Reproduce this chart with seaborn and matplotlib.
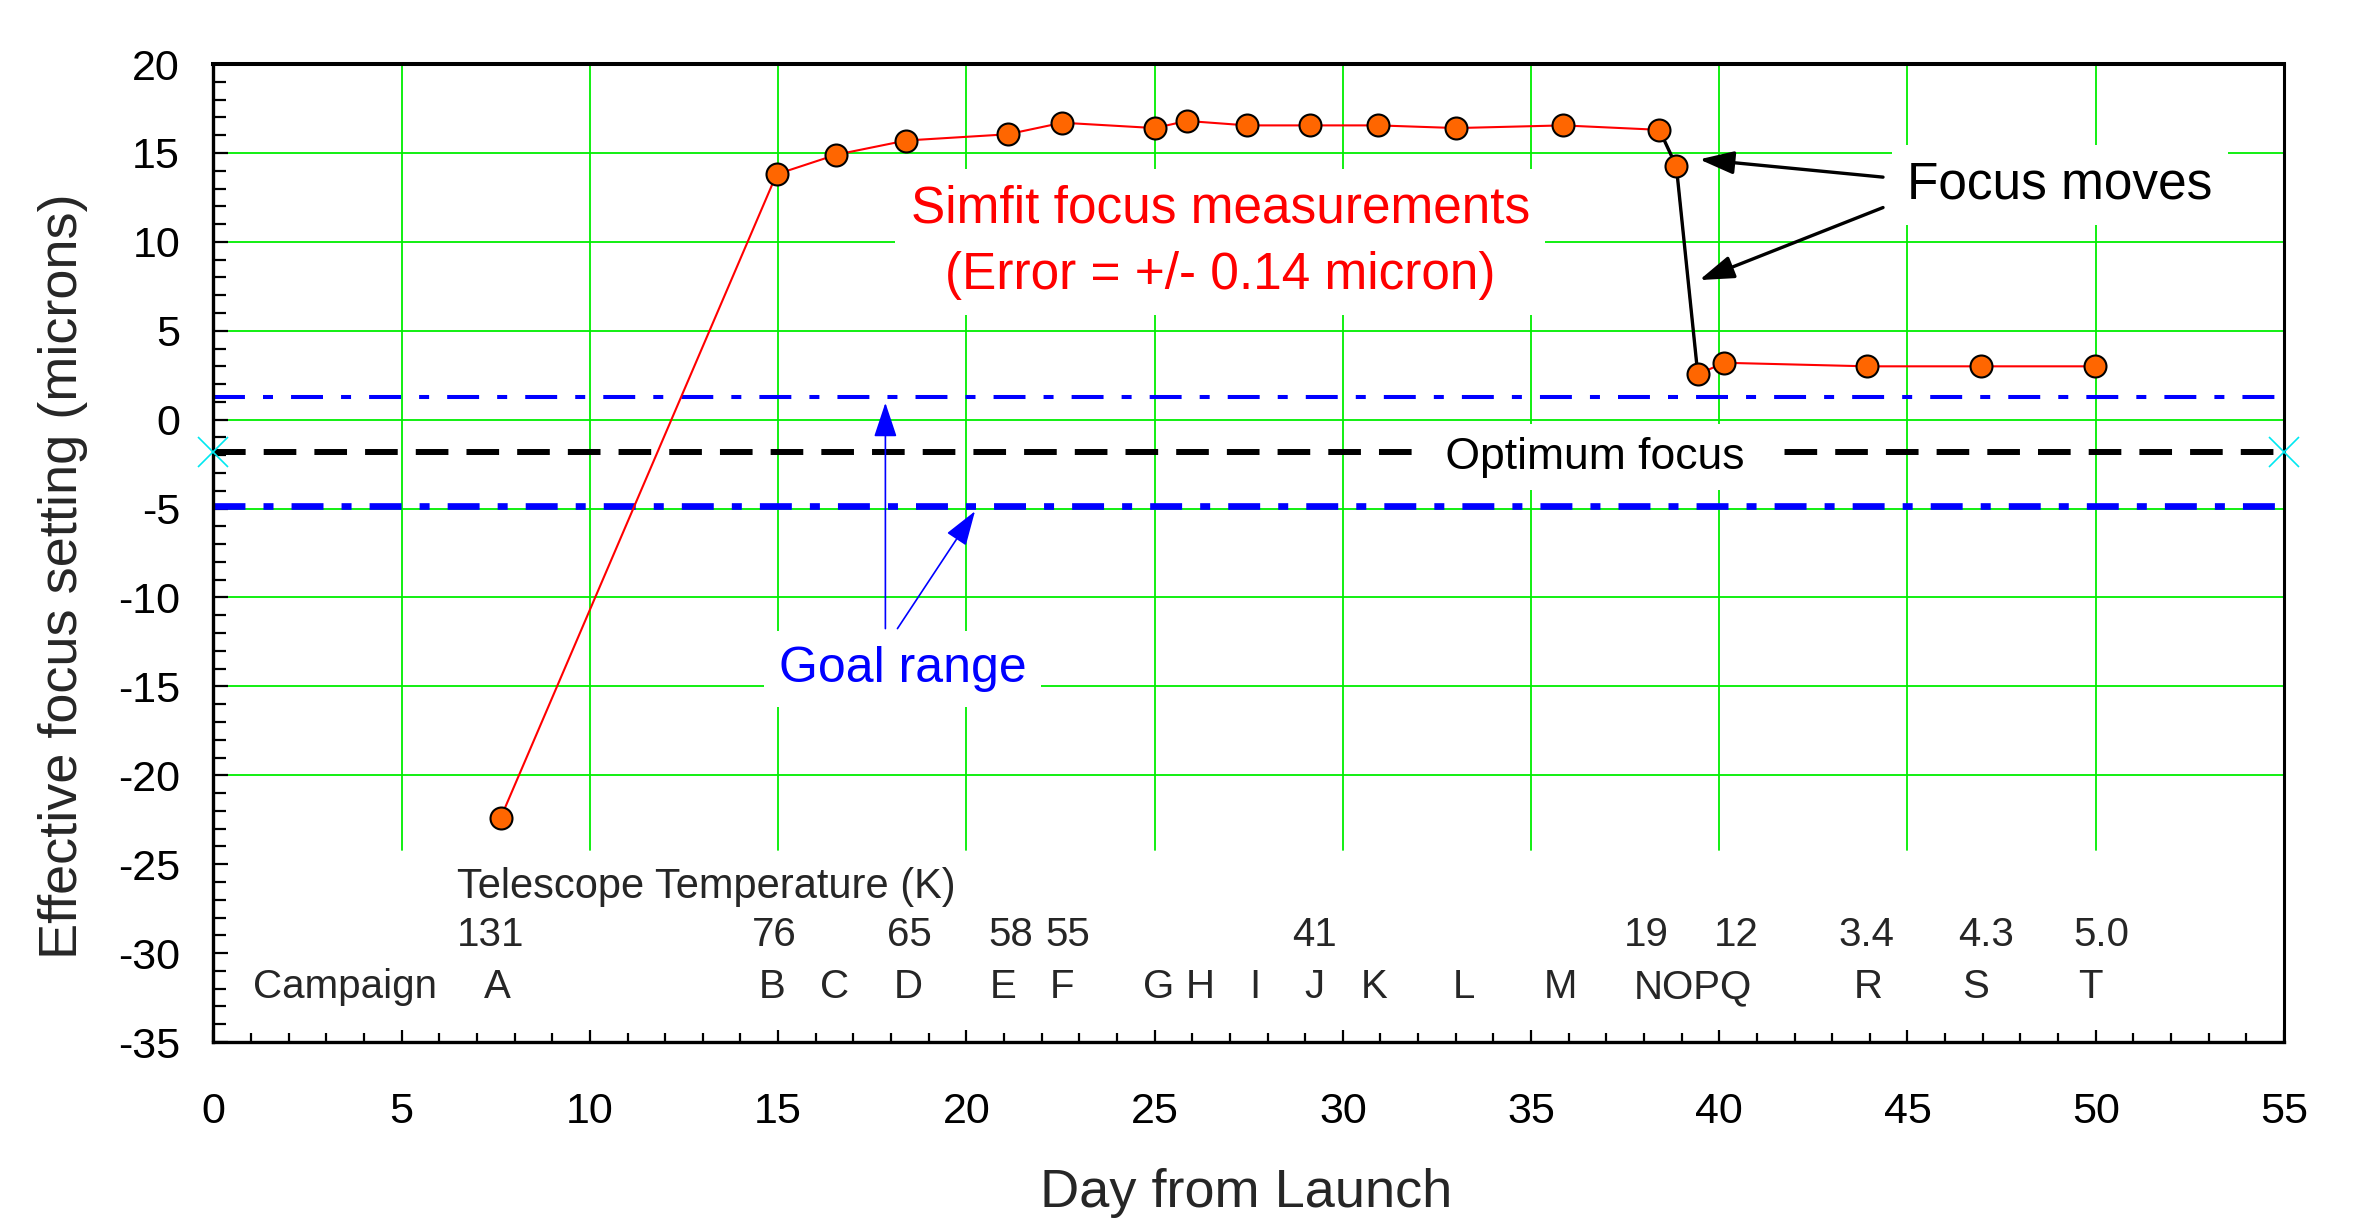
import numpy as np
import pandas as pd
import matplotlib
matplotlib.use("Agg")
import matplotlib.pyplot as plt
import seaborn as sns
from matplotlib.ticker import MultipleLocator

# ---------------- data ----------------
days = [7.63, 14.96, 16.54, 18.40, 21.10, 22.55, 25.00, 25.86, 27.46, 29.14,
        30.94, 33.02, 35.85, 38.41, 38.86, 39.43, 40.13, 43.93, 46.94, 49.97]
focus = [-22.4, 13.8, 14.9, 15.7, 16.05, 16.7, 16.4, 16.8, 16.55, 16.55,
         16.55, 16.4, 16.55, 16.3, 14.25, 2.55, 3.2, 3.0, 3.0, 3.0]
campaigns = list("ABCDEFGHIJKLMNOPQRST")
focus_move_campaigns = ["N", "O", "P"]

campaign_labels = ["A", "B", "C", "D", "E", "F", "G", "H", "I", "J", "K",
                   "L", "M", "NOPQ", "R", "S", "T"]
campaign_label_days = [7.54, 14.85, 16.49, 18.45, 20.98, 22.55, 25.1, 26.22,
                       27.66, 29.24, 30.82, 33.23, 35.79, 39.3, 43.97, 46.8, 49.87]

temp_labels = ["131", "76", "65", "58", "55", "41", "19", "12", "3.4", "4.3", "5.0"]
temp_days = [7.36, 14.9, 18.5, 21.19, 22.69, 29.24, 38.05, 40.44, 43.9, 47.1, 50.16]

optimum_focus = -1.8
goal_high = 1.25
goal_low = -4.85

x_ticks = list(range(0, 56, 5))
y_ticks = list(range(-35, 21, 5))

# ---------------- style ----------------
sns.set_theme(style="white")
plt.rcParams["font.family"] = ["Liberation Sans", "DejaVu Sans"]
plt.rcParams["axes.unicode_minus"] = False
plt.rcParams["lines.scale_dashes"] = False

GREEN = "#00ee00"
ORANGE = "#ff6600"

fig, ax = plt.subplots(figsize=(23.58, 12.2), dpi=100)
fig.subplots_adjust(left=0.0905, right=0.9686, bottom=0.1459, top=0.9475)

ax.set_xlim(0, 55)
ax.set_ylim(-35, 20)

# grid (stops above the annotation band at the bottom)
for xv in x_ticks[1:-1]:
    ax.axvline(xv, ymin=(-24.2 + 35) / 55, ymax=1, color=GREEN, lw=1.3, zorder=0.5)
for yv in y_ticks[3:-1]:
    ax.axhline(yv, color=GREEN, lw=1.3, zorder=0.5)

# reference lines
dashdot = (0, (23, 13, 7.2, 13))
ax.axhline(goal_high, color="blue", lw=2.9, linestyle=dashdot, zorder=2)
ax.axhline(goal_low, color="blue", lw=4.8, linestyle=dashdot, zorder=2)
ax.axhline(optimum_focus, color="black", lw=4.3, linestyle=(0, (23.5, 13)), zorder=2)
ax.plot([0, 55], [optimum_focus, optimum_focus], linestyle="none", marker="x",
        ms=22, mew=1.2, color="#00e8f0", clip_on=False, zorder=7)

# data
df = pd.DataFrame({"day": days, "focus": focus, "campaign": campaigns})
sns.lineplot(data=df, x="day", y="focus", color="red", lw=1.5, estimator=None,
             sort=False, ax=ax, zorder=4)
sns.lineplot(data=df[df["campaign"].isin(focus_move_campaigns)], x="day", y="focus",
             color="black", lw=2.4, estimator=None, sort=False, ax=ax, zorder=4.5)
sns.scatterplot(data=df, x="day", y="focus", s=250, color=ORANGE, edgecolor="black",
                linewidth=1.5, ax=ax, zorder=5)

# text annotations
wbox = dict(boxstyle="square,pad=0.3", fc="white", ec="none")
ax.text(26.75, 9.97, "Simfit focus measurements\n(Error = +/- 0.14 micron)",
        color="red", fontsize=37, ha="center", va="center", linespacing=1.45,
        bbox=wbox, zorder=3)
ax.text(49.05, 13.2, "Focus moves", color="black", fontsize=37, ha="center",
        va="center", bbox=wbox, zorder=3)
ax.text(36.7, -2.1, " Optimum focus ", color="black", fontsize=32, ha="center",
        va="center", bbox=dict(boxstyle="square,pad=0.28", fc="white", ec="none"), zorder=3)
ax.text(18.3, -14.0, "Goal range", color="blue", fontsize=36, ha="center",
        va="center", bbox=wbox, zorder=3)

black_arrow = dict(arrowstyle="-|>,head_length=1.05,head_width=0.35", color="black",
                   lw=2.4, mutation_scale=20, shrinkA=0, shrinkB=0)
ax.annotate("", xy=(39.47, 14.64), xytext=(44.35, 13.64), arrowprops=black_arrow, zorder=6)
ax.annotate("", xy=(39.47, 7.85), xytext=(44.35, 11.93), arrowprops=black_arrow, zorder=6)

blue_arrow = dict(arrowstyle="-|>,head_length=1.08,head_width=0.36", color="blue",
                  lw=1.2, mutation_scale=20, shrinkA=0, shrinkB=0)
ax.annotate("", xy=(17.85, 0.95), xytext=(17.85, -11.75), arrowprops=blue_arrow, zorder=6)
ax.annotate("", xy=(20.23, -5.15), xytext=(18.17, -11.75), arrowprops=blue_arrow, zorder=6)

# bottom annotation band
ax.text(6.48, -26.3, "Telescope Temperature (K)", fontsize=30, ha="left", va="center")
for lbl, d in zip(temp_labels, temp_days):
    ax.text(d, -29.0, lbl, fontsize=29, ha="center", va="center")
ax.text(3.5, -31.9, "Campaign", fontsize=29, ha="center", va="center")
for lbl, d in zip(campaign_labels, campaign_label_days):
    ax.text(d, -31.9, lbl, fontsize=29, ha="center", va="center")

# axes, ticks
ax.set_xticks(x_ticks)
ax.set_yticks(y_ticks)
ax.xaxis.set_minor_locator(MultipleLocator(1))
ax.yaxis.set_minor_locator(MultipleLocator(1))
ax.tick_params(axis="both", which="both", direction="in", top=False, right=False,
               bottom=True, left=True, colors="black")
ax.tick_params(axis="x", which="major", length=8.6, width=1.6, pad=36, labelsize=31)
ax.tick_params(axis="x", which="minor", length=6.5, width=1.6)
ax.tick_params(axis="y", which="major", length=11, width=1.6, pad=24, labelsize=31)
ax.tick_params(axis="y", which="minor", length=9, width=1.6)

for side, w in [("left", 2.4), ("bottom", 2.4), ("top", 2.9), ("right", 2.2)]:
    ax.spines[side].set_visible(True)
    ax.spines[side].set_color("black")
    ax.spines[side].set_linewidth(w)

ax.set_xlabel("Day from Launch", fontsize=39)
ax.xaxis.set_label_coords(0.499, -0.1685)
ax.xaxis.label.set_va("baseline")
ax.set_ylabel("Effective focus setting (microns)", fontsize=39)
ax.yaxis.set_label_coords(-0.0727, 0.476)
ax.yaxis.label.set_va("center")
ax.yaxis.label.set_ha("center")

fig.savefig("out.png", dpi=100)
